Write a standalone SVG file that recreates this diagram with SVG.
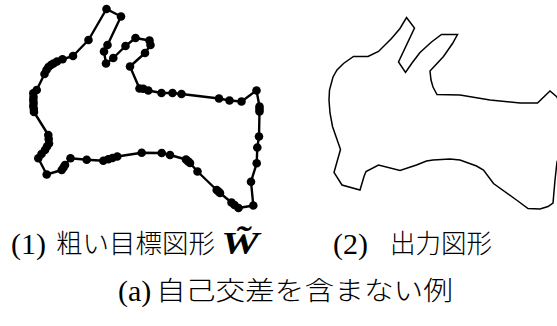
<svg xmlns="http://www.w3.org/2000/svg" width="557" height="326" viewBox="0 0 557 326">
  <style>
    .rough { fill: none; stroke: #000; stroke-width: 2.4; stroke-linejoin: round; }
    .out { fill: none; stroke: #000; stroke-width: 1.5; stroke-linejoin: miter; }
    .pt { fill: #000; }
    .lbl { font-family: "Liberation Serif", serif; font-size: 30px; fill: #000; }
    .jp { font-family: "Noto Sans CJK JP", sans-serif; font-size: 26px; font-weight: 300; fill: #000; }
    .w { font-family: "Liberation Serif", "DejaVu Serif", serif; font-size: 32px; font-weight: bold; font-style: italic; fill: #000; }
  </style>
  <defs>
    <circle id="dot" r="4.3" class="pt"/>
  </defs>

  <!-- rough target outline with its sample points -->
  <g id="rough-shape">
    <polygon class="rough" points="106.5,9 121,16.5 107.5,45 104,51.5 106,63.5 113.3,58 125.5,46 135.5,38 149.5,40.5 150.5,45 145,53 130,66.5 139.5,88.5 143.3,88.7 148.3,90.5 161.5,93 172.5,93 181.5,94 219,98.5 229.5,100.5 241.5,101.5 256.5,90.5 259.5,106.5 259.5,111.5 259,136.5 257.3,147.5 256.7,163.3 251,181.7 253.3,205.5 238.5,208 231.5,202.5 220,193 216.7,190 197.5,171.5 190,163 186,159.5 170,155 161.7,153 141.7,152.7 117.3,156.5 108.3,159.3 103.3,160.7 86.7,159.7 70.5,158.3 65,165 61.7,170 46.7,174.5 38.3,158.3 45,150 49,143.5 48.3,135 34,112 33.3,106 33.3,100 33.3,93.3 36.7,90 44.5,74 48.5,67 53.5,63.5 62.5,59.3 73,56 88.5,40"/>
    <g id="samples">
      <use href="#dot" x="106.5" y="9"/><use href="#dot" x="121" y="16.5"/><use href="#dot" x="107.5" y="45"/>
      <use href="#dot" x="104" y="51.5"/><use href="#dot" x="106" y="63.5"/><use href="#dot" x="113.3" y="58"/>
      <use href="#dot" x="125.5" y="46"/><use href="#dot" x="135.5" y="38"/><use href="#dot" x="149.5" y="40.5"/>
      <use href="#dot" x="150.5" y="45"/><use href="#dot" x="145" y="53"/><use href="#dot" x="130" y="66.5"/>
      <use href="#dot" x="139.5" y="88.5"/><use href="#dot" x="143.3" y="88.7"/><use href="#dot" x="148.3" y="90.5"/>
      <use href="#dot" x="161.5" y="93"/><use href="#dot" x="172.5" y="93"/><use href="#dot" x="181.5" y="94"/>
      <use href="#dot" x="219" y="98.5"/><use href="#dot" x="229.5" y="100.5"/><use href="#dot" x="241.5" y="101.5"/>
      <use href="#dot" x="256.5" y="90.5"/><use href="#dot" x="259.5" y="106.5"/><use href="#dot" x="259.5" y="111.5"/>
      <use href="#dot" x="259" y="136.5"/><use href="#dot" x="257.3" y="147.5"/><use href="#dot" x="256.7" y="163.3"/>
      <use href="#dot" x="251" y="181.7"/><use href="#dot" x="253.3" y="205.5"/><use href="#dot" x="238.5" y="208"/>
      <use href="#dot" x="231.5" y="202.5"/><use href="#dot" x="220" y="193"/><use href="#dot" x="216.7" y="190"/>
      <use href="#dot" x="197.5" y="171.5"/><use href="#dot" x="190" y="163"/><use href="#dot" x="186" y="159.5"/>
      <use href="#dot" x="170" y="155"/><use href="#dot" x="161.7" y="153"/><use href="#dot" x="141.7" y="152.7"/>
      <use href="#dot" x="117.3" y="156.5"/><use href="#dot" x="108.3" y="159.3"/><use href="#dot" x="103.3" y="160.7"/>
      <use href="#dot" x="86.7" y="159.7"/><use href="#dot" x="70.5" y="158.3"/><use href="#dot" x="65" y="165"/>
      <use href="#dot" x="61.7" y="170"/><use href="#dot" x="46.7" y="174.5"/><use href="#dot" x="38.3" y="158.3"/>
      <use href="#dot" x="45" y="150"/><use href="#dot" x="49" y="143.5"/><use href="#dot" x="48.3" y="135"/>
      <use href="#dot" x="34" y="112"/><use href="#dot" x="33.3" y="106"/><use href="#dot" x="33.3" y="100"/>
      <use href="#dot" x="33.3" y="93.3"/><use href="#dot" x="36.7" y="90"/><use href="#dot" x="44.5" y="74"/>
      <use href="#dot" x="48.5" y="67"/><use href="#dot" x="53.5" y="63.5"/><use href="#dot" x="62.5" y="59.3"/>
      <use href="#dot" x="73" y="56"/><use href="#dot" x="88.5" y="40"/>
      <!-- denser runs of samples -->
      <use href="#dot" x="33.5" y="97"/><use href="#dot" x="33.6" y="103"/><use href="#dot" x="33.8" y="109"/>
      <use href="#dot" x="48.7" y="139"/><use href="#dot" x="47" y="146.5"/><use href="#dot" x="41.5" y="154"/>
      <use href="#dot" x="46.5" y="70"/><use href="#dot" x="51" y="65"/><use href="#dot" x="57" y="61.5"/>
      <use href="#dot" x="63.5" y="167.5"/><use href="#dot" x="112.5" y="158"/><use href="#dot" x="234.5" y="205"/>
      <use href="#dot" x="218.5" y="191.5"/><use href="#dot" x="188" y="161.3"/><use href="#dot" x="259.5" y="109"/>
    </g>
  </g>

  <!-- resulting outline -->
  <g id="output-shape">
    <polygon class="out" points="406.5,17.5 414.5,28 398.5,62 405.5,72.5 412,63 420,52.5 431.5,42 441.5,34.5 457.5,34.5 452.5,43.5 443.5,56.5 430,71 431,80 433,87 437,94.5 460,95 490,100 520,103 537.5,103 550,91 557,97 562,110 562,150 557,162 555,180 553,203 548,206.5 540,209 528,208.5 516.5,200 493.5,183.5 483.5,170 476.5,166 460,160 450,159 433,160 426.5,161 416.5,165 400,170.5 378.5,165 366,171.5 364,176.5 360,190 342,185 334,172.5 340.5,149.5 336.5,138 332.5,126.5 330,113 329,100 329.5,90 333,77 337,70 343.5,63.5 353.5,56.5 368,56.5 378.5,51.5 391.5,38.5 400,28.5"/>
  </g>

  <!-- captions -->
  <g id="captions">
    <text class="lbl" x="11" y="254">(1)</text>
    <text class="jp" x="56" y="253" textLength="159" lengthAdjust="spacingAndGlyphs">粗い目標図形</text>
    <text class="w" x="221" y="254" textLength="38" lengthAdjust="spacingAndGlyphs">W̃</text>
    <text class="lbl" x="333" y="254">(2)</text>
    <text class="jp" x="390" y="253" textLength="102" lengthAdjust="spacingAndGlyphs">出力図形</text>
    <text class="lbl" x="118" y="301">(a)</text>
    <text class="jp" x="156" y="300" textLength="297" lengthAdjust="spacingAndGlyphs">自己交差を含まない例</text>
  </g>
</svg>
